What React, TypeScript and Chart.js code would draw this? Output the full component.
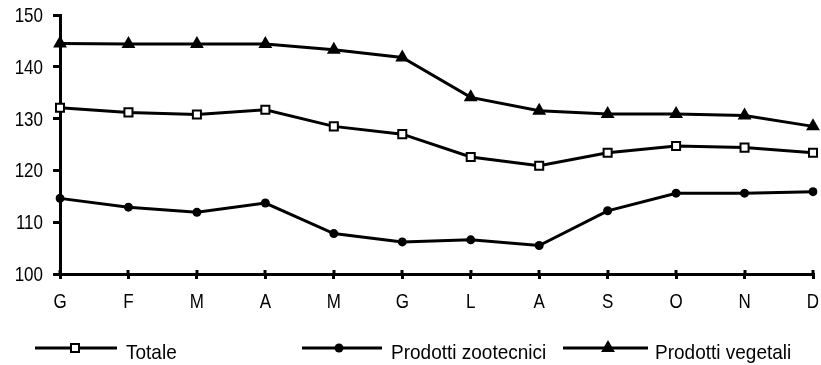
import { useEffect, useRef } from 'react';
import { Chart, registerables } from 'chart.js';

Chart.register(...registerables);

const months = ['G', 'F', 'M', 'A', 'M', 'G', 'L', 'A', 'S', 'O', 'N', 'D'];
const totale = [132.1, 131.2, 130.8, 131.7, 128.5, 127.0, 122.6, 120.9, 123.4, 124.7, 124.4, 123.4];
const zootecnici = [114.6, 112.9, 111.9, 113.7, 107.8, 106.2, 106.6, 105.5, 112.2, 115.6, 115.6, 115.9];
const vegetali = [144.5, 144.4, 144.4, 144.4, 143.3, 141.8, 134.1, 131.5, 130.9, 130.9, 130.6, 128.5];
const seriesNames = ['Totale', 'Prodotti zootecnici', 'Prodotti vegetali'];
const yMin = 100;
const yMax = 150;
const yStep = 10;

const FONT = '"Liberation Sans", Arial, sans-serif';
const STRETCH = 1.15;

// legend layout: [lineStart, lineEnd, markerX, textX]
const legendLayout = [
  [35, 117, 75, 126],
  [302, 382, 339, 391],
  [563, 648, 608, 655],
];

function stretchedText(ctx: CanvasRenderingContext2D, text: string, x: number, baseline: number, size: number, align: CanvasTextAlign, sy: number) {
  ctx.save();
  ctx.font = `${size}px ${FONT}`;
  ctx.fillStyle = '#000';
  ctx.textAlign = align;
  ctx.textBaseline = 'alphabetic';
  ctx.translate(x, baseline);
  ctx.scale(1, sy);
  ctx.fillText(text, 0, 0);
  ctx.restore();
}

function drawMarker(ctx: CanvasRenderingContext2D, style: string, x: number, y: number) {
  ctx.save();
  ctx.fillStyle = '#000';
  ctx.strokeStyle = '#000';
  if (style === 'rect') {
    ctx.lineWidth = 2;
    ctx.fillStyle = '#fff';
    ctx.beginPath();
    ctx.rect(x - 4, y - 4, 8, 8);
    ctx.fill();
    ctx.stroke();
  } else if (style === 'circle') {
    ctx.beginPath();
    ctx.arc(x, y, 4.5, 0, Math.PI * 2);
    ctx.fill();
  } else {
    const r = 8;
    ctx.beginPath();
    ctx.moveTo(x, y - r);
    ctx.lineTo(x + r * Math.sin((2 * Math.PI) / 3), y - r * Math.cos((2 * Math.PI) / 3));
    ctx.lineTo(x + r * Math.sin((4 * Math.PI) / 3), y - r * Math.cos((4 * Math.PI) / 3));
    ctx.closePath();
    ctx.fill();
  }
  ctx.restore();
}

const customPlugin = {
  id: 'customDecor',
  afterDraw(chart: any) {
    const ctx = chart.ctx as CanvasRenderingContext2D;
    const xScale = chart.scales.x;
    const yScale = chart.scales.y;
    const bottom = chart.chartArea.bottom;
    const left = chart.chartArea.left;
    ctx.save();
    ctx.strokeStyle = '#000';
    ctx.lineWidth = 3;
    // x ticks crossing above the axis
    for (let i = 0; i < xScale.ticks.length; i++) {
      const px = Math.round(xScale.getPixelForTick(i));
      ctx.beginPath();
      ctx.moveTo(px, bottom - 4);
      ctx.lineTo(px, bottom);
      ctx.stroke();
    }
    ctx.restore();

    // x tick labels
    xScale.ticks.forEach((t: any, i: number) => {
      const px = xScale.getPixelForTick(i);
      stretchedText(ctx, String(t.label), px, bottom + 34, 17, 'center', STRETCH);
    });
    // y tick labels
    yScale.ticks.forEach((t: any) => {
      const py = yScale.getPixelForValue(t.value);
      stretchedText(ctx, String(t.label), left - 17, py + 7, 17, 'right', STRETCH);
    });

    // legend
    const ly = 348;
    chart.data.datasets.forEach((ds: any, i: number) => {
      const [x0, x1, mx, tx] = legendLayout[i];
      ctx.save();
      ctx.strokeStyle = '#000';
      ctx.lineWidth = 3;
      ctx.beginPath();
      ctx.moveTo(x0, ly);
      ctx.lineTo(x1, ly);
      ctx.stroke();
      ctx.restore();
      drawMarker(ctx, ds.pointStyle, mx, ly);
      stretchedText(ctx, ds.label, tx, 359, 19, 'left', 1.1);
    });
  },
};

export default function App() {
  const ref = useRef<HTMLCanvasElement>(null);

  useEffect(() => {
    document.body.style.margin = '0';
    const canvas = ref.current!;
    const chart = new Chart(canvas, {
      type: 'line',
      data: {
        labels: months,
        datasets: [
          {
            label: seriesNames[0],
            data: totale,
            borderColor: '#000',
            borderWidth: 3,
            pointStyle: 'rect',
            pointRadius: 5.7,
            pointBorderWidth: 2,
            pointBackgroundColor: '#fff',
            pointBorderColor: '#000',
            tension: 0,
          },
          {
            label: seriesNames[1],
            data: zootecnici,
            borderColor: '#000',
            borderWidth: 3,
            pointStyle: 'circle',
            pointRadius: 4.5,
            pointBorderWidth: 0,
            pointBackgroundColor: '#000',
            pointBorderColor: '#000',
            tension: 0,
          },
          {
            label: seriesNames[2],
            data: vegetali,
            borderColor: '#000',
            borderWidth: 3,
            pointStyle: 'triangle',
            pointRadius: 8,
            pointBorderWidth: 0,
            pointBackgroundColor: '#000',
            pointBorderColor: '#000',
            tension: 0,
          },
        ] as any,
      },
      options: {
        responsive: false,
        animation: false,
        devicePixelRatio: 1,
        layout: { padding: { left: 0, right: 0, top: 15, bottom: 0 } },
        plugins: {
          legend: { display: false },
          tooltip: { enabled: false },
        },
        scales: {
          x: {
            offset: false,
            border: { display: true, color: '#000', width: 3 },
            grid: {
              drawOnChartArea: false,
              drawTicks: true,
              tickLength: 5,
              color: '#000',
              lineWidth: 3,
            },
            ticks: {
              display: false,
              autoSkip: false,
              maxRotation: 0,
            },
            afterFit(scale: any) {
              scale.height = 91;
            },
          },
          y: {
            min: yMin,
            max: yMax,
            border: { display: true, color: '#000', width: 3 },
            grid: {
              drawOnChartArea: false,
              drawTicks: true,
              tickLength: 7,
              color: '#000',
              lineWidth: 3,
            },
            ticks: {
              display: false,
              stepSize: yStep,
            },
            afterFit(scale: any) {
              scale.width = 60;
            },
          },
        },
      },
      plugins: [customPlugin],
    });
    return () => chart.destroy();
  }, []);

  return (
    <div style={{ position: 'absolute', left: 0, top: 0, width: 821, height: 365, background: '#fff' }}>
      <canvas ref={ref} width={821} height={365} style={{ width: 821, height: 365, display: 'block' }} />
    </div>
  );
}
